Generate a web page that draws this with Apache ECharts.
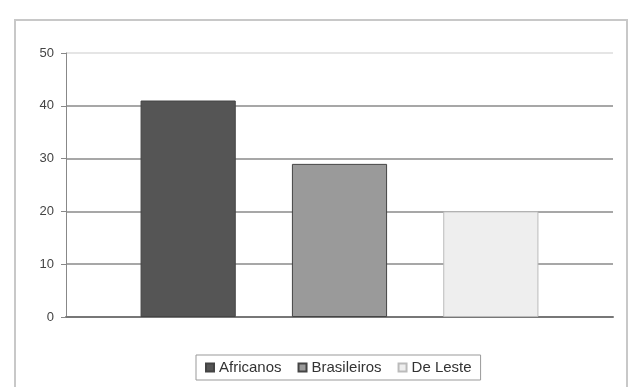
<!DOCTYPE html>
<html><head><meta charset="utf-8">
<script src="https://cdn.jsdelivr.net/npm/echarts@6/dist/echarts.min.js"></script>
<style>html,body{margin:0;padding:0;background:#fff}#c{width:632px;height:387px}</style>
</head><body><div id="c"></div>
<script>
const categories = [''];
const seriesNames = ['Africanos', 'Brasileiros', 'De Leste'];
const africanos = [41];
const brasileiros = [29];
const deLeste = [20];
const yTicks = [0, 10, 20, 30, 40, 50];

const colors = ['#555555', '#9a9a9a', '#eeeeee'];
const values = [africanos, brasileiros, deLeste];

const chart = echarts.init(document.getElementById('c'), null, {renderer: 'canvas'});
chart.setOption({
  animation: false,
  backgroundColor: '#fff',
  graphic: [{
    type: 'rect', shape: {x: 15, y: 20, width: 612, height: 380},
    style: {fill: 'none', stroke: '#c8c8c8', lineWidth: 2}, silent: true
  }],
  grid: {left: 66, right: 19, top: 53, bottom: 70},
  legend: {
    bottom: 7, left: 196,
    data: seriesNames,
    itemWidth: 8, itemHeight: 8, itemGap: 16,
    icon: 'rect',
    borderColor: '#999', borderWidth: 1, padding: [5, 9],
    textStyle: {fontFamily: 'Liberation Sans, Arial', fontSize: 15, color: '#333'}
  },
  xAxis: {
    type: 'category', data: categories,
    axisLine: {show: true, lineStyle: {color: '#777', width: 2}},
    axisTick: {show: false}, axisLabel: {show: false}
  },
  yAxis: {
    type: 'value', min: yTicks[0], max: yTicks[yTicks.length - 1], interval: 10,
    axisLine: {show: true, lineStyle: {color: '#888', width: 1}},
    axisTick: {show: true, length: 5, lineStyle: {color: '#888'}},
    axisLabel: {color: '#444', fontFamily: 'Liberation Sans, Arial', fontSize: 13, margin: 12},
    splitLine: {lineStyle: {color: ['#8a8a8a', '#8a8a8a', '#8a8a8a', '#8a8a8a', '#8a8a8a', '#dddddd'], width: 1.5}}
  },
  series: seriesNames.map((n, i) => ({
    name: n, type: 'bar', data: values[i],
    barWidth: '17.4%', barGap: '59%',
    itemStyle: {color: colors[i], borderColor: i === 2 ? '#bbb' : '#444', borderWidth: 1}
  }))
});
</script></body></html>
